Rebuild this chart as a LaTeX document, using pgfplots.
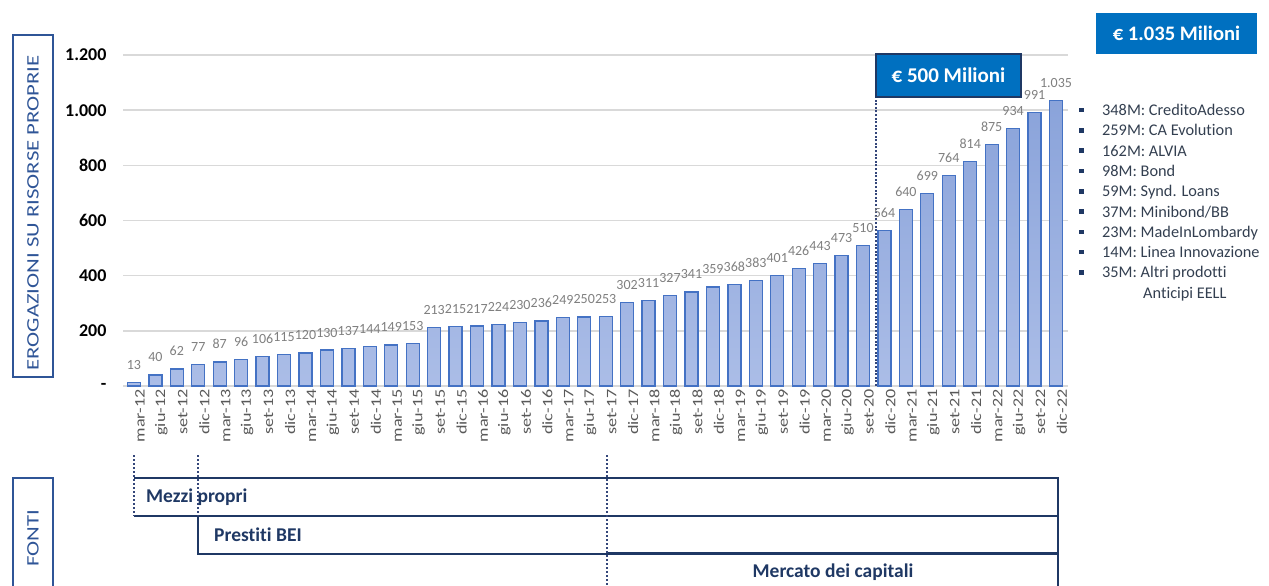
\documentclass[border=0pt]{standalone}
\usepackage{fontspec}
\setmainfont{Carlito}[Ligatures={NoCommon}]
\usepackage{pgfplots}
\pgfplotsset{compat=1.18}
\definecolor{gridgray}{HTML}{D9D9D9}
\definecolor{barline}{HTML}{4472C4}
\definecolor{bartop}{HTML}{8AA3DA}
\definecolor{barbot}{HTML}{ABBDE7}
\definecolor{labgray}{HTML}{7F7F7F}
\definecolor{ticktext}{HTML}{595959}
\definecolor{ylab}{HTML}{2F5597}
\definecolor{boxblue}{HTML}{0070C0}
\definecolor{navy}{HTML}{1F3864}
\definecolor{dashc}{HTML}{34467A}
\definecolor{bultext}{HTML}{333F50}
\newcommand\xl[1]{\scalebox{1.25}[1]{#1}}
\begin{document}
\begin{tikzpicture}[x=1pt,y=1pt]
\useasboundingbox (0,0) rectangle (1269,-586);
\clip (0,0) rectangle (1269,-586);
\begin{axis}[
  at={(123pt,-386pt)}, anchor=south west,
  scale only axis, width=945pt, height=331pt,
  xmin=-0.51, xmax=43.56, ymin=0, ymax=1200,
  axis line style={draw=none},
  ymajorgrids, grid style={draw=gridgray, line width=1.5pt},
  major tick length=0,
  ytick={0,200,400,600,800,1000,1200},
  yticklabels={-,200,400,600,800,1.000,1.200},
  yticklabel style={font=\fontsize{18}{20}\selectfont\bfseries, xshift=-13pt},
  xtick={0,...,43},
  xticklabels={\xl{mar-12},\xl{giu-12},\xl{set-12},\xl{dic-12},\xl{mar-13},\xl{giu-13},\xl{set-13},\xl{dic-13},\xl{mar-14},\xl{giu-14},\xl{set-14},\xl{dic-14},\xl{mar-15},\xl{giu-15},\xl{set-15},\xl{dic-15},\xl{mar-16},\xl{giu-16},\xl{set-16},\xl{dic-16},\xl{mar-17},\xl{giu-17},\xl{set-17},\xl{dic-17},\xl{mar-18},\xl{giu-18},\xl{set-18},\xl{dic-18},\xl{mar-19},\xl{giu-19},\xl{set-19},\xl{dic-19},\xl{mar-20},\xl{giu-20},\xl{set-20},\xl{dic-20},\xl{mar-21},\xl{giu-21},\xl{set-21},\xl{dic-21},\xl{mar-22},\xl{giu-22},\xl{set-22},\xl{dic-22}},
  xticklabel style={rotate=90, anchor=east, font=\fontsize{14.5}{16}\selectfont, text=ticktext, yshift=-6pt},
  clip=false,
  ybar, bar width=13pt,
  nodes near coords, point meta=explicit symbolic,
  every node near coord/.append style={font=\fontsize{14}{16}\selectfont, text=labgray, yshift=9pt},
]
\addplot[draw=barline, line width=1.3pt, top color=bartop, bottom color=barbot] coordinates {
(0,13)[13] (1,40)[40] (2,62)[62] (3,77)[77]
(4,87)[87] (5,96)[96] (6,106)[106] (7,115)[115]
(8,120)[120] (9,130)[130] (10,137)[137] (11,144)[144]
(12,149)[149] (13,153)[153] (14,213)[213] (15,215)[215]
(16,217)[217] (17,224)[224] (18,230)[230] (19,236)[236]
(20,249)[249] (21,250)[250] (22,253)[253] (23,302)[302]
(24,311)[311] (25,327)[327] (26,341)[341] (27,359)[359]
(28,368)[368] (29,383)[383] (30,401)[401] (31,426)[426]
(32,443)[443] (33,473)[473] (34,510)[510] (35,564)[564]
(36,640)[640] (37,699)[699] (38,764)[764] (39,814)[814]
(40,875)[875] (41,934)[934] (42,991)[991] (43,1035)[1.035]
};
\draw[dashc, line width=2.4pt, dash pattern=on 2pt off 1.6pt] (axis cs:34.6,0) -- (axis cs:34.6,1204);
\draw[fill=boxblue, draw=navy, line width=1.5pt] (axis cs:34.6,1204) rectangle (axis cs:41.37,1048)
  node[midway, text=white, font=\fontsize{21}{24}\selectfont\bfseries] {€ 500 Milioni};
\end{axis}
% y label box
\draw[ylab, line width=1.5pt] (13,-35) rectangle (53,-377);
\node[rotate=90, text=ylab, font=\fontsize{17.5}{20}\selectfont] at (33,-213) {\scalebox{1.3}[1]{EROGAZIONI SU RISORSE PROPRIE}};
% FONTI box
\draw[ylab, line width=1.5pt] (13,-478) rectangle (53,-600);
\node[rotate=90, text=ylab, font=\fontsize{17.5}{20}\selectfont] at (33,-538) {\scalebox{1.3}[1]{FONTI}};
% total box
\fill[boxblue] (1096,-13) rectangle (1257,-54);
\node[text=white, font=\fontsize{20.6}{23}\selectfont\bfseries] at (1176.5,-33.5) {€ 1.035 Milioni};
% bullet list
\foreach \yy/\txt in {110/{348M: CreditoAdesso},130.3/{259M: CA Evolution},150.6/{162M: ALVIA},170.9/{98M: Bond},191.2/{59M: Synd. Loans},211.5/{37M: Minibond/BB},231.8/{23M: MadeInLombardy},252.1/{14M: Linea Innovazione},272.4/{35M: Altri prodotti}}{
  \fill[navy] (1079,-\yy-2.3) rectangle ++(4.6,4.6);
  \node[anchor=base west, inner sep=0, text=bultext, font=\fontsize{16.3}{18}\selectfont] at (1102,-\yy-5.5) {\txt};
}
\node[anchor=base west, inner sep=0, text=bultext, font=\fontsize{16.3}{18}\selectfont] at (1143,-298.2) {Anticipi EELL};
% sources boxes
\draw[navy, line width=1.8pt] (134,-478) -- (1058,-478) -- (1058,-516) -- (134,-516);
\draw[navy, line width=1.8pt] (198,-516) -- (198,-554) -- (1058,-554) -- (1058,-516);
\draw[navy, line width=1.8pt] (607,-553) -- (1058,-553) -- (1058,-600);
\draw[dashc, line width=1.8pt, dash pattern=on 2pt off 2pt] (134,-455) -- (134,-516);
\draw[dashc, line width=1.8pt, dash pattern=on 2pt off 2pt] (198,-455) -- (198,-516);
\draw[dashc, line width=1.8pt, dash pattern=on 2pt off 2pt] (607,-455) -- (607,-600);
\node[anchor=west, inner sep=0, text=navy, font=\fontsize{19.5}{22}\selectfont\bfseries] at (146,-497) {Mezzi propri};
\node[anchor=west, inner sep=0, text=navy, font=\fontsize{19.5}{22}\selectfont\bfseries] at (214,-535) {Prestiti BEI};
\node[inner sep=0, text=navy, font=\fontsize{19.5}{22}\selectfont\bfseries] at (833,-572) {Mercato dei capitali};
\end{tikzpicture}
\end{document}
